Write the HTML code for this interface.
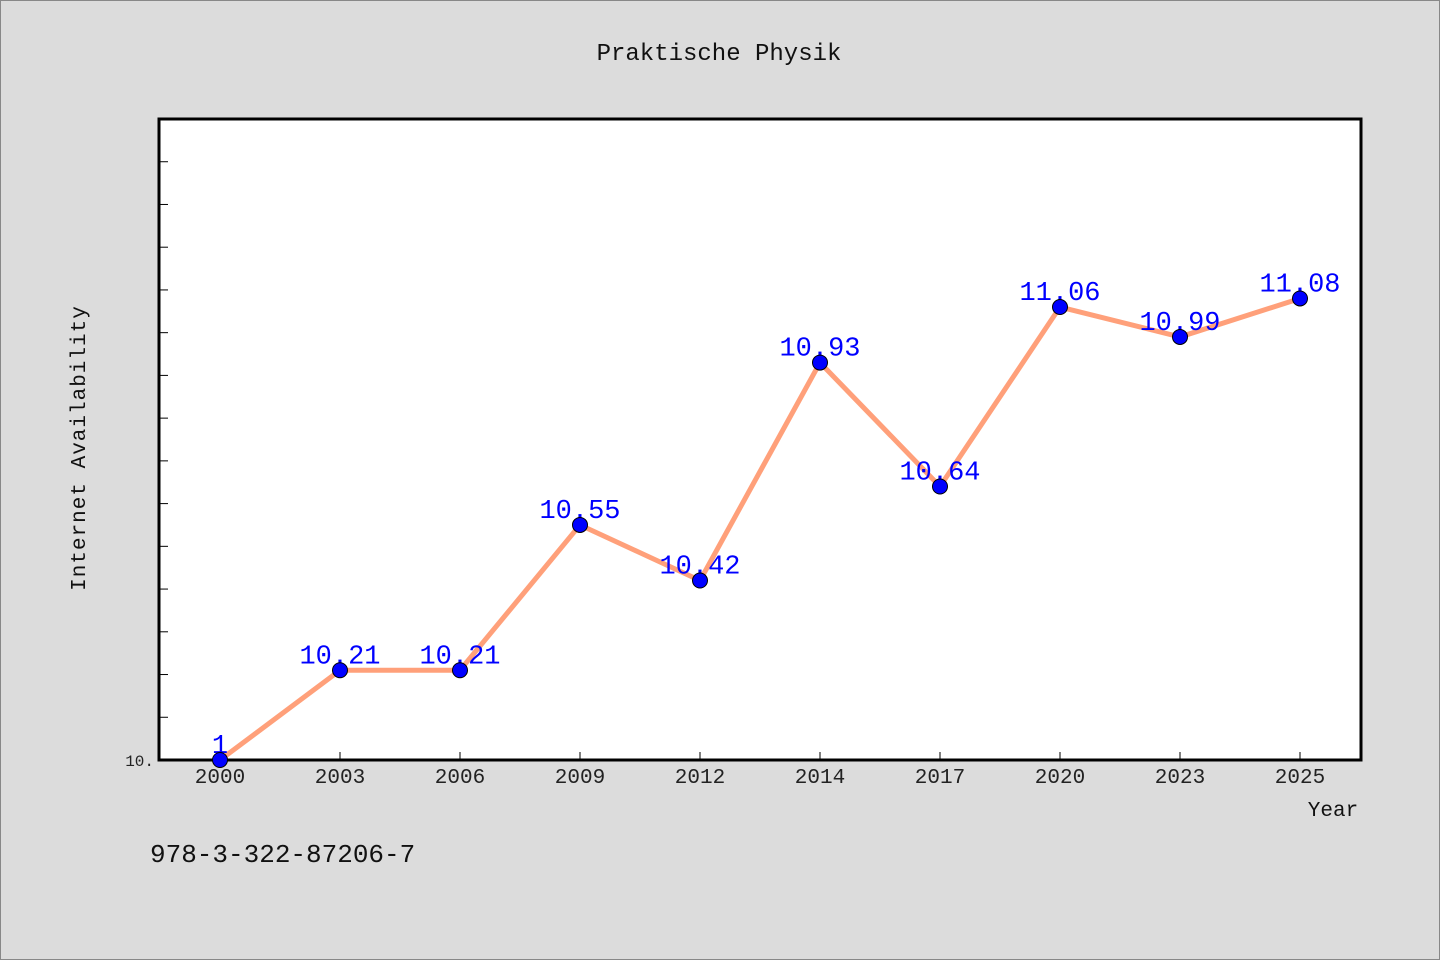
<!DOCTYPE html>
<html><head><meta charset="utf-8"><style>
html,body{margin:0;padding:0;background:#dcdcdc;}
svg{display:block;font-family:"Liberation Mono","DejaVu Sans Mono",monospace;}
</style></head><body>
<svg id="c" width="1440" height="960" xmlns="http://www.w3.org/2000/svg">
<rect x="0.5" y="0.5" width="1439" height="959" fill="#dcdcdc" stroke="#888"/>
<text x="719" y="60" text-anchor="middle" font-size="24" fill="#111">Praktische Physik</text>
<rect x="159" y="119" width="1202" height="641" fill="#fff" stroke="#000" stroke-width="3"/>
<text x="85" y="448" text-anchor="middle" font-size="21" fill="#111" transform="rotate(-90 85 448)" letter-spacing="1">Internet Availability</text>
<text x="1333" y="816" text-anchor="middle" font-size="21" fill="#111">Year</text>
<text x="150" y="862" font-size="26" fill="#111">978-3-322-87206-7</text>
<g id="g"></g>
</svg>
<script>
const categories=["2000","2003","2006","2009","2012","2014","2017","2020","2023","2025"];
const values=[10,10.21,10.21,10.55,10.42,10.93,10.64,11.06,10.99,11.08];
const valueLabels=["1","10.21","10.21","10.55","10.42","10.93","10.64","11.06","10.99","11.08"];
const yMin=10, yMax=11.5, yTickStep=0.1;
const L=159,R=1361,T=119,B=760;
const x=i=>220+i*120;
const y=v=>B-(v-yMin)/(yMax-yMin)*(B-T);
const ns="http://www.w3.org/2000/svg";
const g=document.getElementById('g');
function mk(t,a){const e=document.createElementNS(ns,t);for(const k in a)e.setAttribute(k,a[k]);g.appendChild(e);return e;}
for(let v=yMin;v<=yMax-0.05;v+=yTickStep){
 const t=mk('line',{x1:L,x2:L+9,y1:y(v),y2:y(v),stroke:'#000','stroke-width':1});
 
 
}
const yl=mk('text',{x:154,y:766,'text-anchor':'end','font-size':16,fill:'#222'});
yl.textContent='10.';


categories.forEach((c,i)=>{
 const t=mk('line',{x1:x(i),x2:x(i),y1:B,y2:B-8,stroke:'#000','stroke-width':1});
 
 
 const l=mk('text',{x:x(i),y:783,'text-anchor':'middle','font-size':21,fill:'#222'});
 l.textContent=c;
 
 
});
const line=mk('polyline',{points:values.map((v,i)=>x(i)+','+y(v)).join(' '),fill:'none',stroke:'#ffa07a','stroke-width':5,'stroke-linejoin':'round'});


values.forEach((v,i)=>{
 const l=mk('text',{x:x(i),y:y(v)-7,'text-anchor':'middle','font-size':27,fill:'#0000ff'});
 l.textContent=valueLabels[i];
 
 
});
values.forEach((v,i)=>{
 const p=mk('circle',{cx:x(i),cy:y(v),r:7.5,fill:'#0000ff',stroke:'#000','stroke-width':1});
 
 
});
</script>
</body></html>
